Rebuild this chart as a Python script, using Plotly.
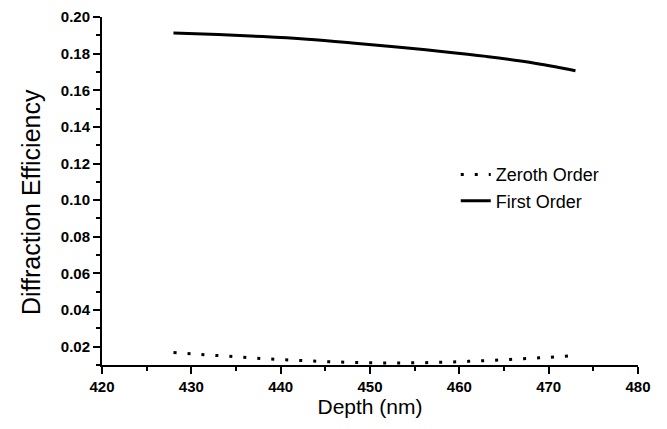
import plotly.graph_objects as go

depth_zeroth = [428, 431, 434, 437, 440, 443, 446, 449, 452, 455, 458, 461, 464, 467, 470, 473]
eff_zeroth = [0.0168, 0.0158, 0.0148, 0.0138, 0.0130, 0.0123, 0.0117, 0.0113, 0.0111,
              0.0112, 0.0115, 0.0120, 0.0126, 0.0134, 0.0142, 0.0152]

depth_first = [428, 433, 438, 443, 448, 453, 458, 463, 468, 473]
eff_first = [0.1913, 0.1904, 0.1893, 0.1878, 0.1858, 0.1836, 0.1812, 0.1785, 0.1752, 0.1707]

x_ticks = [420, 430, 440, 450, 460, 470, 480]
y_ticks = [0.02, 0.04, 0.06, 0.08, 0.10, 0.12, 0.14, 0.16, 0.18, 0.20]

FONT = "Liberation Sans, Arial, sans-serif"

fig = go.Figure()
fig.add_trace(go.Scatter(
    x=depth_zeroth, y=eff_zeroth, mode="lines", name="Zeroth Order",
    line=dict(color="black", width=3, dash="3px,11px", shape="spline"),
))
fig.add_trace(go.Scatter(
    x=depth_first, y=eff_first, mode="lines", name="First Order",
    line=dict(color="black", width=3, shape="spline"),
))

fig.update_layout(
    width=667, height=429,
    margin=dict(l=94, r=37, t=9, b=72, autoexpand=False),
    paper_bgcolor="white", plot_bgcolor="white",
    font=dict(family=FONT, color="black"),
    showlegend=True,
    legend=dict(x=0.66, y=0.60, xanchor="left", yanchor="top",
                bgcolor="rgba(0,0,0,0)", font=dict(size=18, family=FONT),
                tracegroupgap=0, itemwidth=30),
    xaxis=dict(
        range=[420, 480], tickvals=x_ticks, ticktext=[str(v) for v in x_ticks],
        automargin=False,
        showgrid=False, zeroline=False, showline=True, linecolor="black", linewidth=2,
        ticks="outside", ticklen=7, tickwidth=2, tickcolor="black",
        tickfont=dict(size=15, family=FONT, weight="bold"),
        minor=dict(dtick=5, tick0=420, ticks="outside", ticklen=4, tickwidth=2, tickcolor="black"),
        title=dict(text="Depth (nm)", font=dict(size=21, family=FONT), standoff=4),
    ),
    yaxis=dict(
        range=[0.01, 0.20], tickvals=y_ticks, ticktext=[f"{v:.2f}" for v in y_ticks],
        automargin=False,
        showgrid=False, zeroline=False, showline=True, linecolor="black", linewidth=2,
        ticks="outside", ticklen=7, tickwidth=2, tickcolor="black",
        tickfont=dict(size=15, family=FONT, weight="bold"),
        minor=dict(dtick=0.01, tick0=0.01, ticks="outside", ticklen=4, tickwidth=2, tickcolor="black"),
    ),
    annotations=[dict(
        text="Diffraction Efficiency", textangle=-90, showarrow=False,
        xref="paper", yref="paper", x=-0.1325, y=0.468,
        xanchor="center", yanchor="middle",
        font=dict(size=25, family=FONT, color="black"),
    )],
)

fig.write_html("out.html")
